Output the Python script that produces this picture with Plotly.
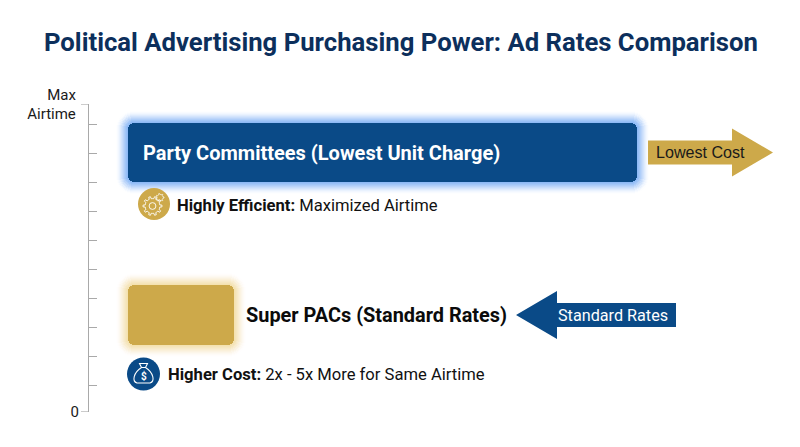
import numpy as np
import plotly.graph_objects as go

TITLE = "Political Advertising Purchasing Power: Ad Rates Comparison"
categories = ["Party Committees (Lowest Unit Charge)", "Super PACs (Standard Rates)"]
bar_lengths = [509, 106.5]
bar_starts = [127.5, 127.5]
bar_levels = [259.5, 97]
bar_thickness = [59, 60]
bar_colors = ["#0a4a87", "#cda94a"]
glow_colors = ["#5b9df5", "#f0d488"]
glow_strength = [1.0, 0.9]

tick_levels = [0, 27, 56, 85, 114, 143, 172, 201, 230, 259, 288, 308]
tick_labels = ["0", "", "", "", "", "", "", "", "", "", "", "Max\u2009<br>Airtime\u2009"]

NAVY = "#0a4a87"
GOLD = "#cda94a"
FONT = "Roboto"

fig = go.Figure()

# soft glow, then the solid bar
for i in range(len(categories)):
    for k in range(12, 0, -1):
        fig.add_trace(go.Bar(
            orientation="h", x=[bar_lengths[i] + 2 * k], base=[bar_starts[i] - k],
            y=[bar_levels[i]], width=[bar_thickness[i] + 2 * k],
            marker=dict(color=glow_colors[i], cornerradius=6 + k, line_width=0),
            opacity=(0.012 + 0.014 * (12 - k)) * glow_strength[i],
            hoverinfo="skip", showlegend=False))
    fig.add_trace(go.Bar(
        orientation="h", x=[bar_lengths[i]], base=[bar_starts[i]], y=[bar_levels[i]],
        width=[bar_thickness[i]], name=categories[i],
        marker=dict(color=bar_colors[i], cornerradius=6, line_width=0),
        showlegend=False))

# icon discs
fig.add_trace(go.Scatter(x=[154], y=[208], mode="markers", showlegend=False,
                         marker=dict(size=32, color=GOLD, line_width=0)))
fig.add_trace(go.Scatter(x=[143.5], y=[38], mode="markers", showlegend=False,
                         marker=dict(size=33, color=NAVY, line_width=0)))


def poly(points, **kw):
    d = "M" + " L".join(f"{x:.2f},{y:.2f}" for x, y in points) + " Z"
    return dict(type="path", xref="x", yref="y", path=d, **kw)


def arrow(x_tail, x_neck, x_tip, yc, half_shaft, half_head, color):
    return poly([(x_tail, yc - half_shaft), (x_neck, yc - half_shaft), (x_neck, yc - half_head),
                 (x_tip, yc), (x_neck, yc + half_head), (x_neck, yc + half_shaft),
                 (x_tail, yc + half_shaft)], fillcolor=color, line_width=0)


def gear(cx, cy, r_out, r_in, teeth, width):
    pts = []
    for t in range(teeth):
        a = 2 * np.pi * t / teeth
        s = np.pi / teeth
        for off, r in ((-s, r_in), (-s * 0.45, r_in), (-s * 0.3, r_out), (s * 0.3, r_out), (s * 0.45, r_in)):
            pts.append((cx + r * np.cos(a + off), cy + r * np.sin(a + off)))
    return poly(pts, line=dict(color="white", width=width), fillcolor="rgba(0,0,0,0)")


def ring(cx, cy, r, width):
    return dict(type="circle", xref="x", yref="y", x0=cx - r, x1=cx + r, y0=cy - r, y1=cy + r,
                line=dict(color="white", width=width), fillcolor="rgba(0,0,0,0)")


shapes = [
    arrow(648, 732, 773, 259.5, 12, 24, GOLD),
    arrow(676, 557, 516, 97, 12, 24, NAVY),
    gear(152.5, 206, 9.5, 7.4, 10, 0.9),
    ring(152.5, 206, 3.4, 0.9),
    gear(160, 214.5, 4.0, 3.0, 7, 0.7),
    dict(type="path", xref="x", yref="y",
         path="M139.5,48.5 L147.5,48.5 L145.5,44.5 L141.5,44.5 Z "
              "M141.5,44.5 C133,39 132,30.5 137,29 L150,29 C155,30.5 154,39 145.5,44.5",
         line=dict(color="white", width=1.1), fillcolor="rgba(0,0,0,0)"),
]

anns = []


def label(x, y, text, size, color="#111111", family=FONT, anchor="left"):
    anns.append(dict(x=x, y=y, xref="x", yref="y", text=text, showarrow=False, xanchor=anchor,
                     yanchor="middle", xshift=0, font=dict(family=family, size=size, color=color)))


label(141, 259.5, "<b>" + categories[0] + "</b>", 20, "white")
label(244, 97, "<b>" + categories[1] + "</b>", 19.9, "#0b0b0b")
label(175, 207, "<b>Highly Efficient:</b> Maximized Airtime", 16.6)
label(166, 38, "<b>Higher Cost:</b> 2x - 5x More for Same Airtime", 16.6)
label(654, 260, "Lowest Cost", 16.1, "#1a1a1a", "Liberation Sans")
label(556, 97, "Standard Rates", 16.2, "white")
label(143.5, 36, "<b>$</b>", 10, "white", anchor="center")

fig.update_layout(
    width=800, height=447, autosize=False,
    margin=dict(l=0, r=0, t=0, b=0, autoexpand=False),
    paper_bgcolor="white", plot_bgcolor="white",
    barmode="overlay", bargap=0,
    showlegend=False,
    title=dict(text="<b>" + TITLE + "</b>", x=0.5012, xanchor="center", y=0.906, yanchor="middle",
               automargin=False, font=dict(family=FONT, size=25.7, color="#0c2f5c")),
    xaxis=dict(range=[0, 800], domain=[0, 1], visible=False, fixedrange=True, automargin=False),
    yaxis=dict(range=[0, 308], domain=[35 / 447, 343 / 447], anchor="free", position=88 / 800,
               automargin=False,
               showgrid=False, zeroline=False, showline=True, linecolor="#a9a9a9", linewidth=1.2,
               ticks="inside", ticklen=8, tickcolor="#a9a9a9", tickwidth=1.2,
               tickmode="array", tickvals=tick_levels, ticktext=tick_labels,
               ticklabelstandoff=6,
               tickfont=dict(family=FONT, size=15, color="#1a1a1a"), fixedrange=True),
    shapes=shapes + [
        dict(type="line", xref="x", yref="y", x0=81, x1=88, y0=lv, y1=lv,
             line=dict(color="#a9a9a9", width=1.2)) for lv in (tick_levels[0], tick_levels[-1])
    ],
    annotations=anns,
)

fig.write_html("out.html", config=dict(displayModeBar=False),
               post_script="document.body.style.margin='0';document.documentElement.style.overflow='hidden';")
